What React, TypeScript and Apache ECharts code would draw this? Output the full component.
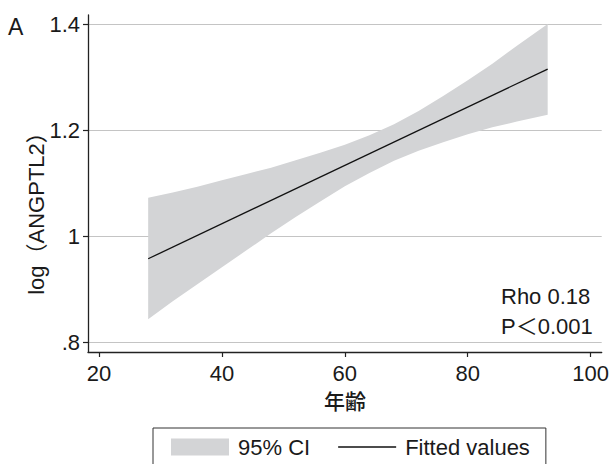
import React, { useEffect, useRef } from "react";
import * as echarts from "echarts";

// Data
const ciX = [28, 32, 36, 40, 44, 48, 52, 56, 60, 64, 68, 72, 76, 80, 84, 88, 93];
const ciLower = [0.843, 0.877, 0.909, 0.941, 0.973, 1.005, 1.036, 1.065, 1.094, 1.119, 1.142, 1.161, 1.177, 1.192, 1.205, 1.216, 1.229];
const ciUpper = [1.072, 1.082, 1.093, 1.105, 1.117, 1.129, 1.143, 1.157, 1.172, 1.19, 1.211, 1.236, 1.264, 1.294, 1.325, 1.359, 1.4];
const fitX = [28, 93];
const fitY = [0.957, 1.315];
const xTicks = [20, 40, 60, 80, 100];
const yTicks = [0.8, 1.0, 1.2, 1.4];
const yTickLabels = [".8", "1", "1.2", "1.4"];
const legendNames = ["95% CI", "Fitted values"];
const statLines = ["Rho 0.18", "P＜0.001"];
const xTitle = "年齢";
const yTitle = "log（ANGPTL2）";
const panelLabel = "A";

const FONT = "'Liberation Sans', Arial, 'Noto Sans CJK JP', sans-serif";
const TXT = "#1a1a1a";
const BAND = "#d3d4d6";

export default function App() {
  const ref = useRef<HTMLDivElement>(null);
  useEffect(() => {
    if (!ref.current) return;
    const chart = echarts.init(ref.current, undefined, { renderer: "svg" });
    const option: any = {
      animation: false,
      backgroundColor: "#ffffff",
      grid: [
        { left: 88, top: 15, width: 513.7, height: 337 },
        { left: 99, top: 15, width: 491.7, height: 337 },
        { left: 88, top: 24, width: 513.7, height: 318 },
      ],
      xAxis: [
        {
          type: "value", gridIndex: 0, min: 18.21, max: 101.79,
          axisLine: { show: true, lineStyle: { color: "#222", width: 1.3 } },
          axisTick: { show: false }, axisLabel: { show: false }, splitLine: { show: false },
        },
        {
          type: "value", gridIndex: 1, min: xTicks[0], max: xTicks[xTicks.length - 1], interval: 20,
          axisLine: { show: false },
          axisTick: { show: true, length: 5, lineStyle: { color: "#222", width: 1.2 } },
          axisLabel: { show: true, fontSize: 22, color: TXT, fontFamily: FONT, margin: 10 },
          splitLine: { show: false },
        },
        { type: "value", gridIndex: 2, show: false, min: 0, max: 1 },
      ],
      yAxis: [
        {
          type: "value", gridIndex: 0, min: 0.7811, max: 1.417,
          axisLine: { show: true, lineStyle: { color: "#222", width: 1.3 } },
          axisTick: { show: false }, axisLabel: { show: false }, splitLine: { show: false },
        },
        { type: "value", gridIndex: 1, show: false, min: 0, max: 1 },
        {
          type: "value", gridIndex: 2, min: yTicks[0], max: yTicks[yTicks.length - 1], interval: 0.2,
          axisLine: { show: false },
          axisTick: { show: true, length: 5, lineStyle: { color: "#222", width: 1.2 } },
          axisLabel: {
            show: true, fontSize: 22, color: TXT, fontFamily: FONT, margin: 8,
            formatter: (v: number) => {
              const i = yTicks.findIndex((t) => Math.abs(t - v) < 1e-6);
              return i >= 0 ? yTickLabels[i] : "";
            },
          },
          splitLine: { show: true, lineStyle: { color: "#c4c4c4", width: 1 } },
        },
      ],
      legend: {
        left: 153, top: 428,
        padding: [8, 16, 20, 18],
        itemWidth: 58, itemHeight: 17, itemGap: 28,
        borderColor: "#333", borderWidth: 1,
        textStyle: { fontSize: 22, fontFamily: FONT, color: TXT, padding: [0, 0, 0, 4] },
        data: [
          { name: legendNames[0], icon: "rect" },
          { name: legendNames[1], icon: "path://M0,0L58,0L58,1.3L0,1.3Z", itemStyle: { color: "#111" } },
        ],
      },
      series: [
        {
          name: legendNames[0],
          type: "custom",
          xAxisIndex: 0, yAxisIndex: 0,
          itemStyle: { color: BAND },
          data: [[ciX[0], ciLower[0]]],
          renderItem: (params: any, api: any) => {
            const up = ciX.map((x, i) => api.coord([x, ciUpper[i]]));
            const lo = ciX.map((x, i) => api.coord([x, ciLower[i]])).reverse();
            return { type: "polygon", shape: { points: [...up, ...lo] }, style: { fill: BAND }, silent: true };
          },
          z: 2,
        },
        {
          name: legendNames[1],
          type: "line",
          xAxisIndex: 0, yAxisIndex: 0,
          data: fitX.map((x, i) => [x, fitY[i]]),
          symbol: "none", showSymbol: false,
          lineStyle: { color: "#111", width: 1.3 },
          itemStyle: { color: "#111" },
          z: 3,
        },
      ],
      graphic: [
        { type: "text", left: 8, top: 15, style: { text: panelLabel, fontSize: 23, fontFamily: FONT, fill: TXT } },
        {
          type: "text", x: 36, y: 208, rotation: Math.PI / 2,
          style: { text: yTitle, fontSize: 22, fontFamily: FONT, fill: TXT, align: "center", verticalAlign: "middle" },
        },
        {
          type: "text", x: 345, y: 401,
          style: { text: xTitle, fontSize: 21, fontWeight: 500, fontFamily: FONT, fill: TXT, align: "center", verticalAlign: "middle" },
        },
        {
          type: "text", x: 501, y: 296,
          style: { text: statLines[0], fontSize: 22, fontFamily: FONT, fill: TXT, align: "left", verticalAlign: "middle" },
        },
        {
          type: "text", x: 501, y: 326,
          style: { text: statLines[1], fontSize: 22, fontFamily: FONT, fill: TXT, align: "left", verticalAlign: "middle" },
        },
      ],
    };
    chart.setOption(option);
    return () => chart.dispose();
  }, []);
  return (
    <div
      ref={ref}
      style={{ position: "fixed", left: 0, top: 0, width: 612, height: 464, background: "#fff" }}
    />
  );
}
